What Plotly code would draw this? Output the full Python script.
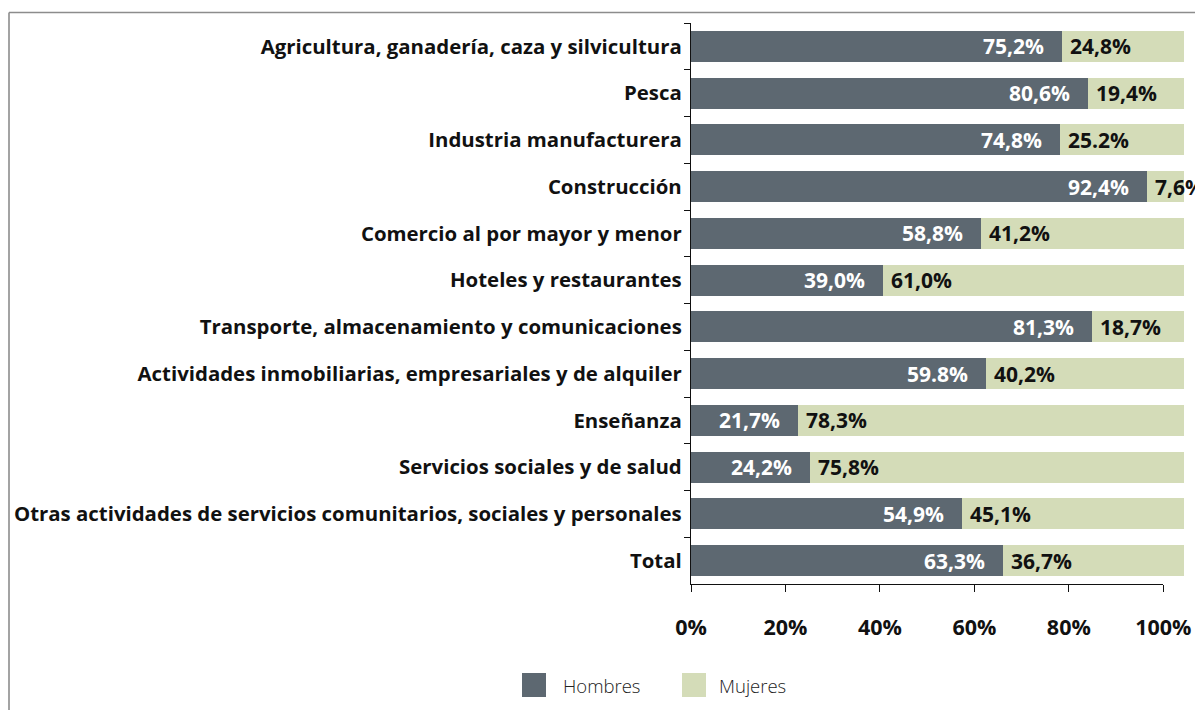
import plotly.graph_objects as go

# Ocupados por rama de actividad y sexo (%)
categorias = [
    "Agricultura, ganadería, caza y silvicultura",
    "Pesca",
    "Industria manufacturera",
    "Construcción",
    "Comercio al por mayor y menor",
    "Hoteles y restaurantes",
    "Transporte, almacenamiento y comunicaciones",
    "Actividades inmobiliarias, empresariales y de alquiler",
    "Enseñanza",
    "Servicios sociales y de salud",
    "Otras actividades de servicios comunitarios, sociales y personales",
    "Total",
]
hombres = [75.2, 80.6, 74.8, 92.4, 58.8, 39.0, 81.3, 59.8, 21.7, 24.2, 54.9, 63.3]
mujeres = [24.8, 19.4, 25.2, 7.6, 41.2, 61.0, 18.7, 40.2, 78.3, 75.8, 45.1, 36.7]
# Etiquetas tal como se publican (algunas con punto decimal)
etiquetas_hombres = ["75,2%", "80,6%", "74,8%", "92,4%", "58,8%", "39,0%",
                     "81,3%", "59.8%", "21,7%", "24,2%", "54,9%", "63,3%"]
etiquetas_mujeres = ["24,8%", "19,4%", "25.2%", "7,6%", "41,2%", "61,0%",
                     "18,7%", "40,2%", "78,3%", "75,8%", "45,1%", "36,7%"]
ticks_x = [0, 20, 40, 60, 80, 100]
ticks_x_texto = ["0%", "20%", "40%", "60%", "80%", "100%"]

COLOR_H = "#5d6871"
COLOR_M = "#d4dcb8"
FUENTE = "Open Sans"

W, H = 1195, 710
ML, MR, MT, MB = 691, 11, 23, 126
PW = W - ML - MR
PH = H - MT - MB


def px_x(p):
    return (p - ML) / PW


def px_y(p):
    return (H - MB - p) / PH


fig = go.Figure()
fig.add_trace(go.Bar(
    y=categorias, x=hombres, name="Hombres", orientation="h",
    marker=dict(color=COLOR_H, line=dict(width=0)), hoverinfo="x+y",
))
fig.add_trace(go.Bar(
    y=categorias, x=mujeres, name="Mujeres", orientation="h",
    marker=dict(color=COLOR_M, line=dict(width=0)), hoverinfo="x+y",
))
# Traza vacía para que se dibuje el eje x secundario
fig.add_trace(go.Scatter(x=[None], y=[None], xaxis="x2", yaxis="y",
                         showlegend=False, hoverinfo="skip"))

anotaciones = []
for cat, h, th, tm in zip(categorias, hombres, etiquetas_hombres, etiquetas_mujeres):
    anotaciones.append(dict(
        x=h, y=cat, xref="x", yref="y", text=th, showarrow=False,
        xanchor="right", xshift=-16,
        font=dict(family=FUENTE, size=21, color="white", weight="bold"),
    ))
    anotaciones.append(dict(
        x=h, y=cat, xref="x", yref="y", text=tm, showarrow=False,
        xanchor="left", xshift=6,
        font=dict(family=FUENTE, size=21, color="#111111", weight="bold"),
    ))

# Leyenda
ley_y0, ley_y1 = px_y(673), px_y(697)
formas = [
    dict(type="rect", xref="paper", yref="paper", x0=px_x(522), x1=px_x(546),
         y0=ley_y1, y1=ley_y0, fillcolor=COLOR_H, line=dict(width=0)),
    dict(type="rect", xref="paper", yref="paper", x0=px_x(682), x1=px_x(706),
         y0=ley_y1, y1=ley_y0, fillcolor=COLOR_M, line=dict(width=0)),
    # Marco
    dict(type="line", xref="paper", yref="paper", x0=px_x(9), x1=px_x(W + 5),
         y0=px_y(12.5), y1=px_y(12.5), line=dict(color="#8c8c8c", width=1.6)),
    dict(type="line", xref="paper", yref="paper", x0=px_x(9), x1=px_x(9),
         y0=px_y(12.5), y1=px_y(H + 5), line=dict(color="#8c8c8c", width=1.6)),
]
for texto, x0 in [("Hombres", 561), ("Mujeres", 717)]:
    anotaciones.append(dict(
        x=px_x(x0), y=px_y(685), xref="paper", yref="paper", text=texto,
        showarrow=False, xanchor="left", yanchor="middle",
        font=dict(family=FUENTE, size=18.5, color="#222222", weight=300),
    ))

fig.update_layout(
    width=W, height=H,
    margin=dict(l=ML, r=MR, t=MT, b=MB, pad=0, autoexpand=False),
    paper_bgcolor="white", plot_bgcolor="rgba(0,0,0,0)",
    barmode="stack", bargap=0.337,
    showlegend=False,
    font=dict(family=FUENTE, color="#111111"),
    xaxis=dict(range=[0, 100], visible=False, fixedrange=True, automargin=False),
    xaxis2=dict(
        domain=[0, (1163.3 - ML) / PW], anchor="y", range=[0, 100],
        tickvals=ticks_x, ticktext=ticks_x_texto, automargin=False,
        showline=True, linecolor="#111111", linewidth=1.3,
        ticks="outside", ticklen=7, tickwidth=1.3, tickcolor="#111111",
        ticklabelstandoff=17, showgrid=False, zeroline=False,
        tickfont=dict(family=FUENTE, size=21.5, color="#111111", weight="bold"),
    ),
    yaxis=dict(
        type="category", autorange="reversed", automargin=False,
        showline=True, linecolor="#111111", linewidth=1.3,
        ticks="outside", tickson="boundaries", ticklen=6, tickwidth=1.3,
        tickcolor="#111111", showgrid=False, zeroline=False,
        ticklabelstandoff=4,
        tickfont=dict(family=FUENTE, size=20.4, color="#111111", weight="bold"),
    ),
    annotations=anotaciones,
    shapes=formas,
)

fig.write_html("out.html")
